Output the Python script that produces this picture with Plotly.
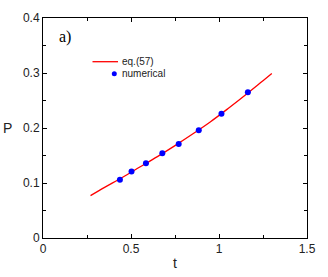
import plotly.graph_objects as go

# curve eq.(57)
curve_t = [0.27, 0.35, 0.45, 0.55, 0.65, 0.75, 0.85, 0.95, 1.05, 1.15, 1.25, 1.30]
curve_p = [0.077, 0.092, 0.110, 0.129, 0.148, 0.168, 0.189, 0.211, 0.235, 0.260, 0.286, 0.299]

# numerical points
num_t = [0.437, 0.503, 0.585, 0.678, 0.771, 0.885, 1.014, 1.164]
num_p = [0.106, 0.121, 0.136, 0.154, 0.171, 0.196, 0.226, 0.265]

x_ticks = [0, 0.5, 1, 1.5]
x_labels = ["0", "0.5", "1", "1.5"]
y_ticks = [0, 0.1, 0.2, 0.3, 0.4]
y_labels = ["0", "0.1", "0.2", "0.3", "0.4"]

fig = go.Figure()
fig.add_trace(go.Scatter(x=curve_t, y=curve_p, mode="lines", name="eq.(57)",
                         line=dict(color="#ff0000", width=1.3, shape="spline"),
                         showlegend=False))
fig.add_trace(go.Scatter(x=num_t, y=num_p, mode="markers", name="numerical",
                         marker=dict(color="#0000ff", size=6),
                         showlegend=False))

axis_common = dict(showgrid=False, zeroline=False, showline=True, linecolor="black",
                   linewidth=1, mirror="allticks", ticks="inside", ticklen=4,
                   tickcolor="black", tickwidth=1, automargin=False,
                   tickfont=dict(family="Liberation Sans, Arial", size=12, color="#222"))

fig.update_layout(
    width=328, height=277,
    margin=dict(l=43, r=21, t=18, b=39, autoexpand=False),
    paper_bgcolor="white", plot_bgcolor="white",
    xaxis=dict(range=[0, 1.5], tickvals=x_ticks, ticktext=x_labels,
               minor=dict(dtick=0.25, ticks="inside", ticklen=3, tickcolor="black"),
               **axis_common),
    yaxis=dict(range=[0, 0.4], tickvals=y_ticks, ticktext=y_labels,
               minor=dict(dtick=0.05, ticks="inside", ticklen=3, tickcolor="black"),
               **axis_common),
    font=dict(family="Liberation Sans, Arial", color="#222"),
)

# axis titles
fig.add_annotation(text="P", xref="paper", yref="paper", x=(7 - 43) / 264.0, y=(238.3 - 128) / 220.0,
                   xanchor="center", yanchor="middle", showarrow=False,
                   font=dict(family="Liberation Sans, Arial", size=14, color="#222"))
fig.add_annotation(text="t", xref="paper", yref="paper", x=(175 - 43) / 264.0, y=(238.3 - 263) / 220.0,
                   xanchor="center", yanchor="middle", showarrow=False,
                   font=dict(family="Liberation Sans, Arial", size=14, color="#222"))

# panel label
fig.add_annotation(text="a)", xref="paper", yref="paper", x=(57 - 43) / 264.0, y=(238.3 - 37) / 220.0,
                   xanchor="left", yanchor="middle", showarrow=False,
                   font=dict(family="Liberation Serif, Times New Roman", size=16, color="black"))

# legend (drawn manually for compact layout)
x0 = (92.5 - 43) / 264.0
x1 = (118 - 43) / 264.0
ly1 = (238.3 - 62) / 220.0
ly2 = (238.3 - 74) / 220.0
fig.add_shape(type="line", xref="paper", yref="paper", x0=x0, x1=x1, y0=ly1, y1=ly1,
              line=dict(color="#ff0000", width=1.3))
mx = (114.3 - 43) / 264.0
fig.add_shape(type="circle", xref="paper", yref="paper", xsizemode="pixel", ysizemode="pixel",
              xanchor=mx, yanchor=ly2, x0=-2.5, x1=2.5, y0=-2.5, y1=2.5,
              fillcolor="#0000ff", line=dict(width=0))
tx = (120 - 43) / 264.0
fig.add_annotation(text="eq.(57)", xref="paper", yref="paper", x=tx, y=ly1,
                   xanchor="left", yanchor="middle", showarrow=False,
                   font=dict(family="Liberation Sans, Arial", size=10, color="#222"))
fig.add_annotation(text="numerical", xref="paper", yref="paper", x=tx, y=ly2,
                   xanchor="left", yanchor="middle", showarrow=False,
                   font=dict(family="Liberation Sans, Arial", size=10, color="#222"))

fig.write_html("out.html", config={"displayModeBar": False},
               post_script="document.body.style.margin='0';document.body.style.overflow='hidden';")
